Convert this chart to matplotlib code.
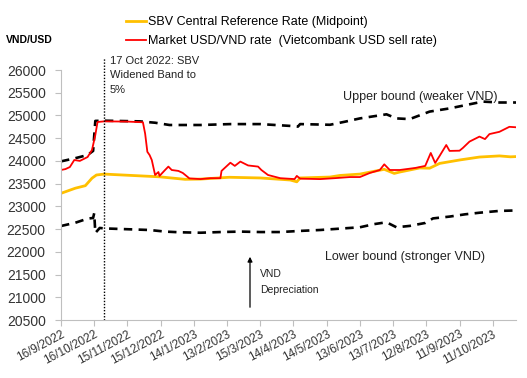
import numpy as np
import pandas as pd
import matplotlib
matplotlib.use("Agg")
import matplotlib.pyplot as plt

plt.rcParams['font.family'] = ['Liberation Sans', 'DejaVu Sans']

# -----------------------------
# DATA (days after 16/9/2022, VND per USD)
# -----------------------------
start = pd.Timestamp("2022-09-16")

mid_days = [0, 13, 22, 28, 32, 39, 89, 112, 126, 152, 180, 207, 213, 216, 243, 252,
            270, 292, 301, 306, 324, 333, 342, 360, 378, 396, 406, 411]
mid_rate = [23287, 23400, 23455, 23620, 23690, 23710, 23650, 23595, 23600, 23640, 23625,
            23580, 23540, 23625, 23645, 23680, 23710, 23815, 23725, 23755, 23845, 23840,
            23945, 24020, 24085, 24110, 24090, 24095]

mkt_days = [0, 4, 8, 12, 17, 24, 28, 31, 33, 39, 60, 74, 76, 78, 80, 82, 85, 88, 89, 94,
            97, 100, 106, 110, 116, 126, 135, 144, 145, 153, 157, 162, 169, 178, 181, 187,
            198, 211, 213, 216, 234, 247, 261, 270, 279, 288, 292, 297, 306, 320, 329, 334,
            338, 342, 348, 351, 360, 363, 369, 378, 383, 387, 396, 405, 411]
mkt_rate = [23800, 23820, 23865, 24020, 24000, 24085, 24240, 24570, 24856, 24870, 24865,
            24850, 24600, 24200, 24130, 24020, 23690, 23755, 23670, 23800, 23875, 23800,
            23780, 23735, 23615, 23600, 23620, 23620, 23780, 23960, 23890, 23985, 23900,
            23875, 23800, 23690, 23620, 23600, 23670, 23610, 23600, 23620, 23645, 23645,
            23735, 23800, 23925, 23800, 23800, 23845, 23890, 24175, 23955, 24110, 24350,
            24220, 24225, 24285, 24425, 24535, 24480, 24590, 24640, 24750, 24740]

up_days = [0, 13, 24, 29, 31, 39, 71, 85, 98, 126, 153, 180, 207, 214, 216, 243, 256,
           270, 294, 303, 315, 333, 351, 369, 381, 396, 411]
up_rate = [23990, 24060, 24130, 24220, 24880, 24885, 24870, 24840, 24790, 24790, 24810,
           24810, 24770, 24755, 24810, 24795, 24860, 24935, 25025, 24935, 24920, 25085,
           25155, 25245, 25305, 25285, 25285]

low_days = [0, 13, 24, 29, 30, 31, 35, 39, 80, 94, 107, 126, 144, 162, 180, 198, 216,
            234, 252, 270, 283, 294, 303, 315, 329, 336, 351, 365, 378, 396, 411]
low_rate = [22568, 22640, 22730, 22745, 22850, 22415, 22525, 22515, 22480, 22445, 22430,
            22420, 22435, 22445, 22435, 22435, 22460, 22480, 22510, 22540, 22610, 22650,
            22540, 22570, 22635, 22735, 22775, 22825, 22860, 22900, 22910]

tick_days = np.arange(0, 391, 30)
widening_day = 39


def to_dates(days):
    return start + pd.to_timedelta(days, unit="D")


# -----------------------------
# PLOT
# -----------------------------
fig = plt.figure(figsize=(5.27, 3.78), dpi=100)
ax = fig.add_axes([61 / 527, 1 - 320 / 378, 455 / 527, 250 / 378])

ax.plot(to_dates(up_days), up_rate, color="black", lw=1.9, ls=(0, (3.2, 2.4)))
ax.plot(to_dates(low_days), low_rate, color="black", lw=1.9, ls=(0, (3.2, 2.4)))
l1, = ax.plot(to_dates(mid_days), mid_rate, color="#FFC000", lw=2)
l2, = ax.plot(to_dates(mkt_days), mkt_rate, color="#FF0000", lw=1.3)

ax.axvline(to_dates([widening_day])[0], ymin=0, ymax=1.05, color="black",
           lw=1.0, ls=(0, (1, 1.2)), clip_on=False)

ax.set_ylim(20500, 26000)
ax.set_yticks(np.arange(20500, 26001, 500))
ax.set_xlim(start, to_dates([411])[0])
ax.set_xticks(to_dates(tick_days))
ax.set_xticklabels([d.strftime("%-d/%-m/%Y") for d in to_dates(tick_days)],
                   rotation=28, ha="right", rotation_mode="anchor")

for s in ["top", "right"]:
    ax.spines[s].set_visible(False)
for s in ["left", "bottom"]:
    ax.spines[s].set_color("#BFBFBF")
ax.tick_params(axis="both", colors="#BFBFBF", length=4, width=0.8)
ax.tick_params(axis="y", labelsize=10, labelcolor="#333333", pad=7)
ax.tick_params(axis="x", labelsize=8.5, labelcolor="#333333", pad=2)

# annotations
fig.text(6 / 527, 1 - 40 / 378, "VND/USD", fontsize=7.5, fontweight="bold",
         va="center", ha="left")
fig.text(110 / 527, 1 - 56 / 378, "17 Oct 2022: SBV\nWidened Band to\n5%",
         fontsize=8, va="top", ha="left", linespacing=1.55, color="#222222")
fig.text(343 / 527, 1 - 97 / 378, "Upper bound (weaker VND)", fontsize=9,
         va="center", ha="left", color="#222222")
fig.text(325 / 527, 1 - 257 / 378, "Lower bound (stronger VND)", fontsize=9,
         va="center", ha="left", color="#222222")
fig.text(260 / 527, 1 - 282 / 378, "VND\nDepreciation", fontsize=7.5,
         va="center", ha="left", linespacing=1.7, color="#222222")
fig.patches.append(matplotlib.patches.FancyArrowPatch(
    (250 / 527, 1 - 310 / 378), (250 / 527, 1 - 254 / 378),
    transform=fig.transFigure, arrowstyle="-|>", mutation_scale=7,
    color="black", lw=0.9))

fig.legend([l1, l2], ["SBV Central Reference Rate (Midpoint)",
                      "Market USD/VND rate  (Vietcombank USD sell rate)"],
           loc="upper left", bbox_to_anchor=(126 / 527, 1 - 16 / 378),
           frameon=False, fontsize=9, handlelength=1.6, handletextpad=0.2,
           labelspacing=0.55, borderaxespad=0, borderpad=0)

fig.savefig("out.png", dpi=100)
